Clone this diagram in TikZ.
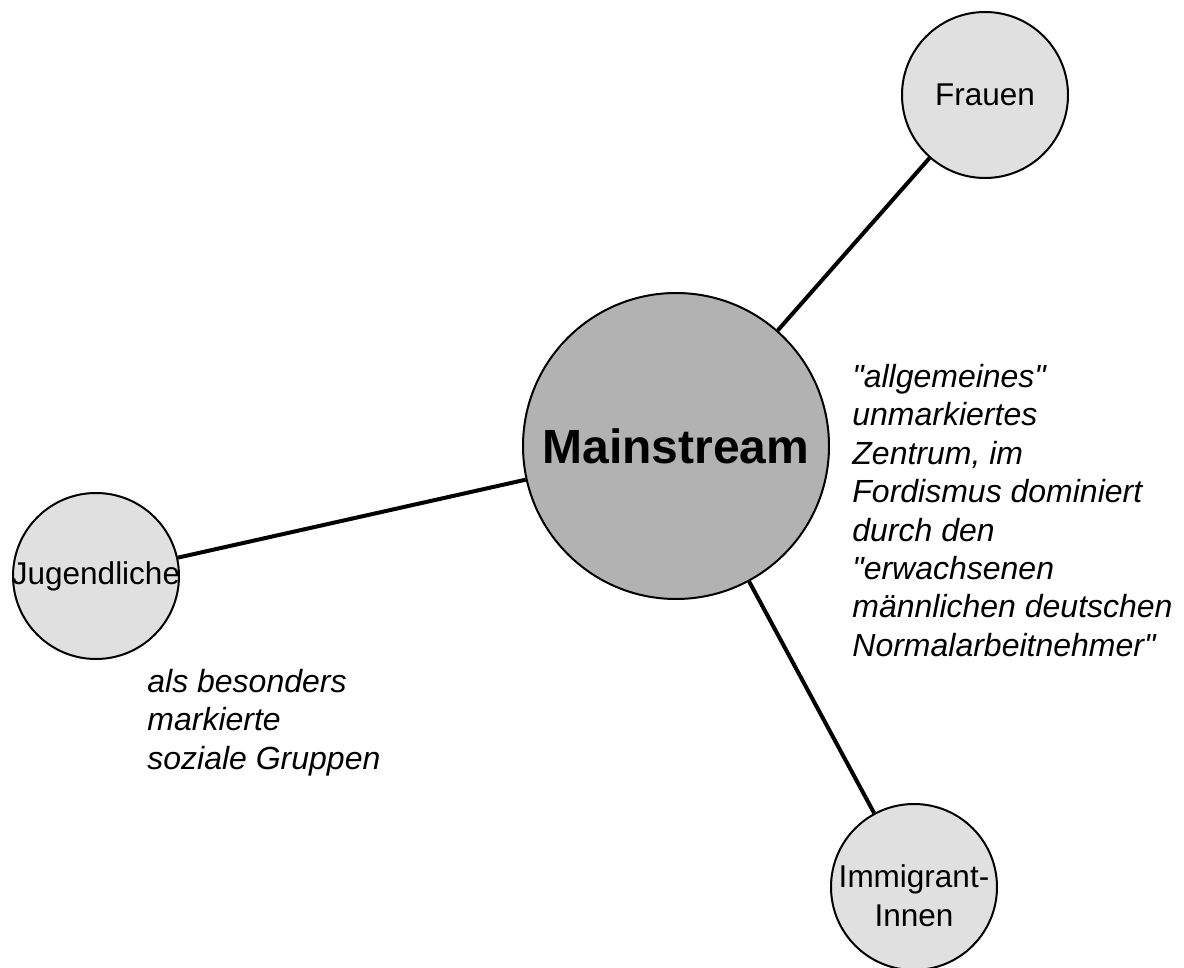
\documentclass[tikz,border=0pt]{standalone}
\usepackage{fontspec}
\setmainfont{Liberation Sans}
\usepackage{tikz}
\usetikzlibrary{calc}
\tikzset{
    centre/.style={
        draw,
        circle,
        line width=1pt,
        minimum size=153pt,
        inner sep=0pt,
        fill=black!30
    },
    group/.style={
        draw,
        circle,
        line width=1pt,
        minimum size=83pt,
        inner sep=0pt,
        fill=black!12
    },
    grouplabel/.style={
        inner sep=0pt,
        align=center,
        font=\fontsize{15.75}{19.5}\selectfont
    },
    note/.style={
        anchor=north west,
        inner sep=0pt,
        align=left,
        font=\fontsize{16}{19.2}\selectfont\itshape
    },
    link/.style={
        line width=2pt
    }
}

\begin{document}
\begin{tikzpicture}[x=0.5pt,y=-0.5pt]
    \useasboundingbox (0,0) rectangle (1184,968);

    \node (M) [centre] at (676,446) {};
    \node (Mt) [inner sep=0pt,font=\fontsize{24}{28}\selectfont\bfseries] at (M) {Mainstream};

    %% groups
    \node (F) [group] at (985,95) {};
    \node (Ft) [grouplabel] at (F) {Frauen};

    \node (J) [group] at (96,576) {};
    \node (Jt) [grouplabel] at (J) {Jugendliche};

    \node (I) [group] at (914,887) {};
    \node (It) [grouplabel] at ($(I)+(0,9)$) {Immigrant-\\Innen};

    \draw[link] (M) -- (F);
    \draw[link] (M) -- (J);
    \draw[link] (M) -- (I);

    %% notes
    \node (N1) [note] at (852,364) {\textquotedbl allgemeines\textquotedbl\\unmarkiertes\\Zentrum, im\\Fordismus dominiert\\durch den\\\textquotedbl erwachsenen\\männlichen deutschen\\Normalarbeitnehmer\textquotedbl};
    \node (N2) [note] at (147,669) {als besonders\\markierte\\soziale Gruppen};

\end{tikzpicture}
\end{document}
